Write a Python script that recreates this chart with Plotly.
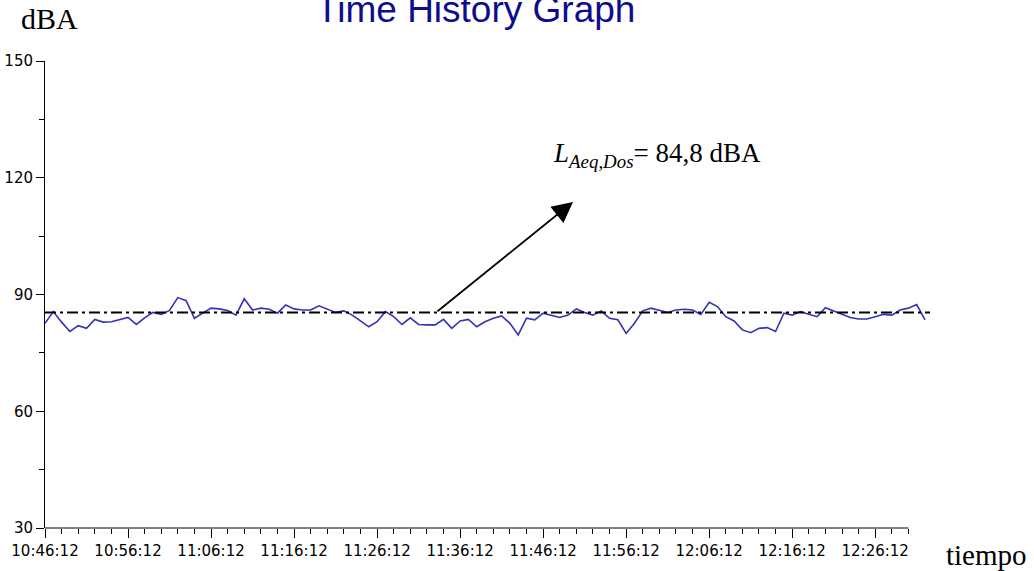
import pandas as pd
import plotly.graph_objects as go

# ---- data ----
START_TIME = "2024-01-01 10:46:12"
LEVEL_DBA = [
    82.6, 85.6, 82.9, 80.5, 82.0, 81.3, 83.6, 82.9, 83.0, 83.5,
    84.1, 82.3, 84.0, 85.4, 84.9, 85.9, 89.2, 88.4, 83.9, 85.2,
    86.5, 86.3, 85.9, 84.7, 88.9, 86.0, 86.5, 86.2, 85.2, 87.3,
    86.3, 86.0, 86.0, 87.1, 86.3, 85.4, 85.8, 84.7, 83.2, 81.7,
    83.0, 85.6, 84.3, 82.3, 84.0, 82.3, 82.2, 82.2, 83.6, 81.3,
    83.2, 83.6, 81.7, 83.0, 83.9, 84.5, 82.6, 79.6, 83.9, 83.5,
    85.2, 84.7, 84.1, 84.7, 86.3, 85.4, 84.7, 85.8, 83.9, 83.5,
    80.0, 82.6, 85.8, 86.5, 86.0, 85.4, 86.0, 86.2, 86.0, 84.9,
    88.0, 86.9, 84.3, 83.2, 80.9, 80.2, 81.3, 81.5, 80.5, 85.2,
    84.7, 85.6, 84.9, 84.3, 86.6, 85.8, 84.9, 84.1, 83.7, 83.7,
    84.3, 84.9, 84.7, 86.0, 86.5, 87.4, 83.5,
]
LAEQ_LINE = 85.4
LAEQ_TEXT = "84,8 dBA"
Y_TICKS = [30, 60, 90, 120, 150]

t0 = pd.Timestamp(START_TIME)
times = pd.date_range(t0, periods=len(LEVEL_DBA), freq="1min")
minute = pd.Timedelta(minutes=1)
x_end = t0 + 106.6 * minute
axis_end = t0 + 104 * minute

fig = go.Figure()
fig.add_trace(go.Scatter(
    x=times, y=LEVEL_DBA, mode="lines",
    line=dict(color="#3333b3", width=1.6), showlegend=False,
))
fig.add_trace(go.Scatter(
    x=[t0, x_end], y=[LAEQ_LINE, LAEQ_LINE], mode="lines",
    line=dict(color="black", width=2, dash="11px,4px,3px,4px"), showlegend=False,
))

minor_vals = [t0 + 2 * i * minute for i in range(0, 53)]

fig.update_xaxes(
    type="date", range=[t0, x_end], automargin=False,
    tick0=t0, dtick=600000, tickformat="%H:%M:%S",
    ticks="outside", ticklen=9, tickcolor="black", tickwidth=1,
    showline=False, showgrid=False, zeroline=False,
    tickfont=dict(family="DejaVu Sans", size=15, color="black"),
    minor=dict(tickmode="array", tickvals=minor_vals, ticks="outside",
               ticklen=5, tickcolor="black", showgrid=False),
)
fig.update_yaxes(
    range=[30, 150], tickmode="array", tickvals=Y_TICKS, automargin=False,
    ticks="outside", ticklen=8, tickcolor="black", tickwidth=1,
    showline=True, linecolor="black", linewidth=1,
    showgrid=False, zeroline=False,
    tickfont=dict(family="DejaVu Sans", size=15, color="black"),
    minor=dict(dtick=15, ticks="outside", ticklen=5, tickcolor="black", showgrid=False),
)

# x axis line (stops at last tick like the reference)
fig.add_shape(type="line", xref="x", yref="paper", x0=t0, x1=axis_end, y0=0, y1=0,
              line=dict(color="black", width=1))

# arrow
fig.add_annotation(
    x=t0 + 63.6 * minute, y=113.8, ax=t0 + 47.1 * minute, ay=LAEQ_LINE,
    xref="x", yref="y", axref="x", ayref="y", text="",
    showarrow=True, arrowhead=2, arrowsize=2.3, arrowwidth=1.8, arrowcolor="black",
)
fig.add_annotation(
    x=t0 + 60.9 * minute, y=125.8, xref="x", yref="y",
    xanchor="left", yanchor="middle", showarrow=False,
    text="<i>L</i><sub><i>Aeq,Dos</i></sub>= " + LAEQ_TEXT,
    font=dict(family="Liberation Serif", size=27, color="black"),
)
fig.add_annotation(
    x=(475 - 45) / 885, y=1.11, xref="paper", yref="paper",
    xanchor="center", yanchor="middle", showarrow=False,
    text="Time History Graph",
    font=dict(family="Liberation Sans", size=37, color="#0c0c8c"),
)
fig.add_annotation(
    x=(49 - 45) / 885, y=1.09, xref="paper", yref="paper",
    xanchor="center", yanchor="middle", showarrow=False,
    text="dBA", font=dict(family="Liberation Serif", size=30, color="black"),
)
fig.add_annotation(
    x=(986 - 45) / 885, y=-0.0578, xref="paper", yref="paper",
    xanchor="center", yanchor="middle", showarrow=False,
    text="tiempo", font=dict(family="Liberation Serif", size=29, color="black"),
)

fig.update_layout(
    width=1034, height=571,
    margin=dict(l=45, r=104, t=61, b=43),
    paper_bgcolor="white", plot_bgcolor="white",
)
fig.write_html("out.html")
